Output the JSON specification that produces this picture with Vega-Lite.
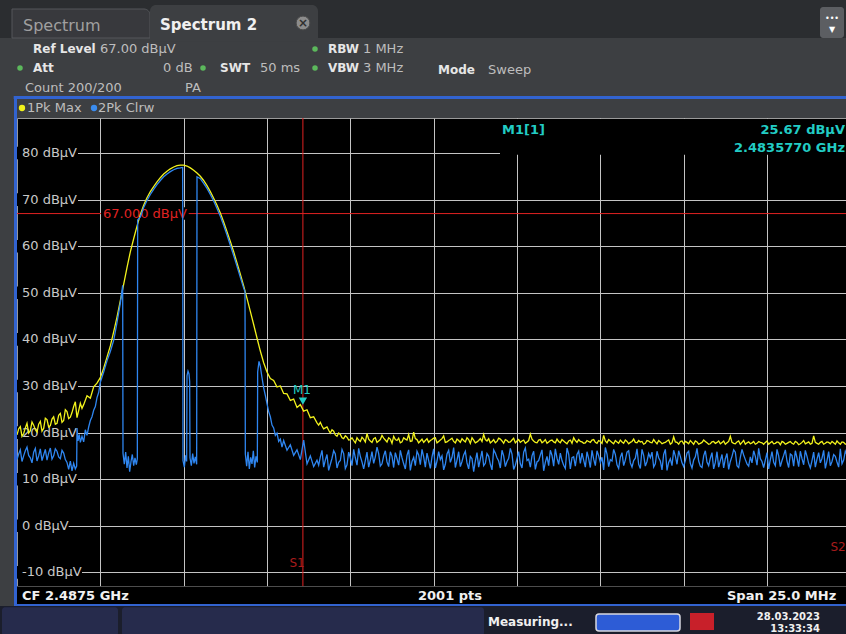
{
"$schema": "https://vega.github.io/schema/vega-lite/v6.json",
"width": 829, "height": 468,
"autosize": {"type": "none"},
"padding": {"left": 17, "top": 118, "right": 0, "bottom": 48},
"background": "#3d3f42",
"config": {
  "view": {"fill": "#000000", "stroke": "#9a9a9a", "strokeWidth": 1},
  "axis": {"title": null, "labels": false, "ticks": false, "domain": false, "grid": true, "gridColor": "#c4c4c4", "gridOpacity": 1, "gridWidth": 1},
  "text": {"font": "DejaVu Sans"}
},
"datasets": {
  "maxhold": [
    {"f":2475.0,"v":19.5},{"f":2475.1,"v":21.3},{"f":2475.2,"v":19.8},{"f":2475.3,"v":22.0},{"f":2475.4,"v":20.4},{"f":2475.5,"v":21.6},{"f":2475.6,"v":20.1},{"f":2475.7,"v":22.4},{"f":2475.8,"v":20.9},{"f":2475.9,"v":22.8},
    {"f":2476.0,"v":21.5},{"f":2476.1,"v":23.4},{"f":2476.2,"v":22.0},{"f":2476.3,"v":24.1},{"f":2476.4,"v":22.6},{"f":2476.5,"v":24.5},{"f":2476.6,"v":23.3},{"f":2476.7,"v":25.6},{"f":2476.8,"v":23.2},{"f":2476.9,"v":26.3},
    {"f":2475.05,"v":20.8},{"f":2475.15,"v":19.2},{"f":2475.25,"v":21.0},{"f":2475.35,"v":19.9},{"f":2475.45,"v":22.3},{"f":2475.55,"v":20.6},{"f":2475.65,"v":21.8},{"f":2475.75,"v":20.3},{"f":2475.85,"v":23.1},{"f":2475.95,"v":21.2},
    {"f":2476.05,"v":22.9},{"f":2476.15,"v":21.8},{"f":2476.25,"v":23.7},{"f":2476.35,"v":22.2},{"f":2476.45,"v":24.9},{"f":2476.55,"v":23.0},{"f":2476.65,"v":24.3},{"f":2476.75,"v":26.6},{"f":2476.85,"v":24.7},{"f":2476.95,"v":25.2},
    {"f":2477.0,"v":26.0},{"f":2477.1,"v":27.9},{"f":2477.2,"v":27.4},{"f":2477.3,"v":29.8},{"f":2477.4,"v":30.6},{"f":2477.5,"v":31.8},{"f":2477.6,"v":33.8},{"f":2477.7,"v":36.2},{"f":2477.8,"v":38.6},{"f":2477.9,"v":41.6},
    {"f":2478.0,"v":44.8},{"f":2478.1,"v":48.3},{"f":2478.2,"v":51.8},{"f":2478.3,"v":55.4},{"f":2478.4,"v":58.8},{"f":2478.5,"v":61.6},{"f":2478.6,"v":64.3},{"f":2478.7,"v":66.8},{"f":2478.8,"v":68.8},{"f":2478.9,"v":70.4},
    {"f":2479.0,"v":71.7},{"f":2479.1,"v":72.8},{"f":2479.2,"v":73.8},{"f":2479.3,"v":74.7},{"f":2479.4,"v":75.5},{"f":2479.5,"v":76.1},{"f":2479.6,"v":76.6},{"f":2479.7,"v":77.0},{"f":2479.8,"v":77.3},{"f":2479.9,"v":77.4},
    {"f":2480.0,"v":77.4},{"f":2480.1,"v":77.2},{"f":2480.2,"v":76.8},{"f":2480.3,"v":76.3},{"f":2480.4,"v":75.7},{"f":2480.5,"v":75.0},{"f":2480.6,"v":74.1},{"f":2480.7,"v":73.0},{"f":2480.8,"v":71.7},{"f":2480.9,"v":70.3},
    {"f":2481.0,"v":68.8},{"f":2481.1,"v":67.1},{"f":2481.2,"v":65.2},{"f":2481.3,"v":63.1},{"f":2481.4,"v":61.0},{"f":2481.5,"v":58.8},{"f":2481.6,"v":56.4},{"f":2481.7,"v":54.0},{"f":2481.8,"v":51.5},{"f":2481.9,"v":48.8},
    {"f":2482.0,"v":46.0},{"f":2482.1,"v":43.2},{"f":2482.2,"v":40.3},{"f":2482.3,"v":37.5},{"f":2482.4,"v":35.0},{"f":2482.5,"v":33.0},{"f":2482.6,"v":31.6},{"f":2482.7,"v":31.2},{"f":2482.8,"v":29.8},{"f":2482.9,"v":30.0},
    {"f":2483.0,"v":28.4},{"f":2483.1,"v":28.3},{"f":2483.2,"v":26.9},{"f":2483.3,"v":27.2},{"f":2483.4,"v":25.4},{"f":2483.5,"v":26.0},{"f":2483.6,"v":24.6},{"f":2483.7,"v":24.9},{"f":2483.8,"v":23.2},{"f":2483.9,"v":23.4},
    {"f":2484.0,"v":22.1},{"f":2484.1,"v":22.2},{"f":2484.2,"v":20.8},{"f":2484.3,"v":21.2},{"f":2484.4,"v":19.9},{"f":2484.5,"v":20.3},{"f":2484.6,"v":19.2},{"f":2484.7,"v":19.6},{"f":2484.8,"v":18.7},{"f":2484.9,"v":19.0},
    {"f":2485.0,"v":18.5},{"f":2485.1,"v":18.3},{"f":2485.2,"v":18.9},{"f":2485.3,"v":18.1},{"f":2485.4,"v":18.6},{"f":2485.5,"v":19.8},{"f":2485.6,"v":18.2},{"f":2485.7,"v":18.7},{"f":2485.8,"v":17.9},{"f":2485.9,"v":18.5},
    {"f":2486.0,"v":18.8},{"f":2486.1,"v":18.0},{"f":2486.2,"v":18.6},{"f":2486.3,"v":19.2},{"f":2486.4,"v":18.3},{"f":2486.5,"v":17.8},{"f":2486.6,"v":18.9},{"f":2486.7,"v":18.4},{"f":2486.8,"v":18.1},{"f":2486.9,"v":20.1},
    {"f":2487.0,"v":18.5},{"f":2487.1,"v":18.2},{"f":2487.2,"v":17.9},{"f":2487.3,"v":18.7},{"f":2487.4,"v":18.3},{"f":2487.5,"v":18.8},{"f":2487.6,"v":17.8},{"f":2487.7,"v":18.4},{"f":2487.8,"v":19.3},{"f":2487.9,"v":18.0},
    {"f":2488.0,"v":18.5},{"f":2488.1,"v":18.1},{"f":2488.2,"v":18.6},{"f":2488.3,"v":17.9},{"f":2488.4,"v":18.3},{"f":2488.5,"v":18.9},{"f":2488.6,"v":17.7},{"f":2488.7,"v":18.4},{"f":2488.8,"v":18.0},{"f":2488.9,"v":18.7},
    {"f":2489.0,"v":19.6},{"f":2489.1,"v":18.2},{"f":2489.2,"v":17.8},{"f":2489.3,"v":18.5},{"f":2489.4,"v":18.1},{"f":2489.5,"v":18.6},{"f":2489.6,"v":17.7},{"f":2489.7,"v":18.3},{"f":2489.8,"v":18.0},{"f":2489.9,"v":18.8},
    {"f":2490.0,"v":18.2},{"f":2490.1,"v":17.9},{"f":2490.2,"v":18.4},{"f":2490.3,"v":18.0},{"f":2490.4,"v":19.7},{"f":2490.5,"v":18.2},{"f":2490.6,"v":17.8},{"f":2490.7,"v":18.5},{"f":2490.8,"v":18.1},{"f":2490.9,"v":17.7},
    {"f":2491.0,"v":18.3},{"f":2491.1,"v":18.0},{"f":2491.2,"v":18.6},{"f":2491.3,"v":17.8},{"f":2491.4,"v":18.2},{"f":2491.5,"v":17.6},{"f":2491.6,"v":18.4},{"f":2491.7,"v":18.9},{"f":2491.8,"v":17.9},{"f":2491.9,"v":18.1},
    {"f":2492.0,"v":17.7},{"f":2492.1,"v":18.3},{"f":2492.2,"v":17.9},{"f":2492.3,"v":18.5},{"f":2492.4,"v":17.7},{"f":2492.5,"v":18.1},{"f":2492.6,"v":19.4},{"f":2492.7,"v":17.8},{"f":2492.8,"v":18.2},{"f":2492.9,"v":17.6},
    {"f":2493.0,"v":18.0},{"f":2493.1,"v":18.4},{"f":2493.2,"v":17.7},{"f":2493.3,"v":18.1},{"f":2493.4,"v":17.9},{"f":2493.5,"v":18.6},{"f":2493.6,"v":17.8},{"f":2493.7,"v":18.0},{"f":2493.8,"v":17.5},{"f":2493.9,"v":18.3},
    {"f":2494.0,"v":17.9},{"f":2494.1,"v":18.5},{"f":2494.2,"v":17.6},{"f":2494.3,"v":18.0},{"f":2494.4,"v":17.8},{"f":2494.5,"v":18.2},{"f":2494.6,"v":17.5},{"f":2494.7,"v":19.1},{"f":2494.8,"v":17.9},{"f":2494.9,"v":18.1},
    {"f":2495.0,"v":17.6},{"f":2495.1,"v":17.9},{"f":2495.2,"v":18.3},{"f":2495.3,"v":17.5},{"f":2495.4,"v":18.0},{"f":2495.5,"v":17.7},{"f":2495.6,"v":18.4},{"f":2495.7,"v":17.8},{"f":2495.8,"v":17.6},{"f":2495.9,"v":18.1},
    {"f":2496.0,"v":17.9},{"f":2496.1,"v":17.6},{"f":2496.2,"v":18.2},{"f":2496.3,"v":17.8},{"f":2496.4,"v":19.2},{"f":2496.5,"v":17.7},{"f":2496.6,"v":18.0},{"f":2496.7,"v":17.5},{"f":2496.8,"v":18.3},{"f":2496.9,"v":17.8},
    {"f":2497.0,"v":17.6},{"f":2497.1,"v":18.1},{"f":2497.2,"v":17.7},{"f":2497.3,"v":17.9},{"f":2497.4,"v":17.5},{"f":2497.5,"v":18.2},{"f":2497.6,"v":17.8},{"f":2497.7,"v":17.6},{"f":2497.8,"v":18.0},{"f":2497.9,"v":17.4},
    {"f":2498.0,"v":17.9},{"f":2498.1,"v":17.7},{"f":2498.2,"v":18.1},{"f":2498.3,"v":17.5},{"f":2498.4,"v":17.9},{"f":2498.5,"v":17.6},{"f":2498.6,"v":18.3},{"f":2498.7,"v":17.8},{"f":2498.8,"v":17.5},{"f":2498.9,"v":19.3},
    {"f":2499.0,"v":17.7},{"f":2499.1,"v":17.9},{"f":2499.2,"v":17.5},{"f":2499.3,"v":18.0},{"f":2499.4,"v":17.6},{"f":2499.5,"v":17.8},{"f":2499.6,"v":18.2},{"f":2499.7,"v":17.5},{"f":2499.8,"v":17.9},{"f":2499.9,"v":17.7},
    {"f":2484.05,"v":21.6},{"f":2484.15,"v":21.4},{"f":2484.25,"v":21.0},{"f":2484.35,"v":20.5},{"f":2484.45,"v":20.6},{"f":2484.55,"v":19.5},{"f":2484.65,"v":19.9},{"f":2484.75,"v":18.9},{"f":2484.85,"v":19.3},{"f":2484.95,"v":18.4},
    {"f":2485.05,"v":18.9},{"f":2485.15,"v":17.8},{"f":2485.25,"v":18.4},{"f":2485.35,"v":19.0},{"f":2485.45,"v":18.0},{"f":2485.55,"v":18.6},{"f":2485.65,"v":17.9},{"f":2485.75,"v":18.9},{"f":2485.85,"v":18.2},{"f":2485.95,"v":19.4},
    {"f":2486.05,"v":18.4},{"f":2486.15,"v":18.9},{"f":2486.25,"v":17.7},{"f":2486.35,"v":18.5},{"f":2486.45,"v":18.8},{"f":2486.55,"v":18.0},{"f":2486.65,"v":18.6},{"f":2486.75,"v":19.6},{"f":2486.85,"v":18.2},{"f":2486.95,"v":18.7},
    {"f":2487.05,"v":17.8},{"f":2487.15,"v":18.6},{"f":2487.25,"v":18.3},{"f":2487.35,"v":17.9},{"f":2487.45,"v":18.5},{"f":2487.55,"v":18.9},{"f":2487.65,"v":18.1},{"f":2487.75,"v":18.7},{"f":2487.85,"v":17.9},{"f":2487.95,"v":18.3},
    {"f":2488.05,"v":18.8},{"f":2488.15,"v":17.8},{"f":2488.25,"v":18.3},{"f":2488.35,"v":18.7},{"f":2488.45,"v":18.0},{"f":2488.55,"v":18.5},{"f":2488.65,"v":18.9},{"f":2488.75,"v":17.8},{"f":2488.85,"v":18.3},{"f":2488.95,"v":18.1},
    {"f":2489.05,"v":18.5},{"f":2489.15,"v":18.7},{"f":2489.25,"v":18.1},{"f":2489.35,"v":17.8},{"f":2489.45,"v":18.8},{"f":2489.55,"v":18.2},{"f":2489.65,"v":18.5},{"f":2489.75,"v":17.9},{"f":2489.85,"v":18.4},{"f":2489.95,"v":17.8},
    {"f":2490.05,"v":18.5},{"f":2490.15,"v":18.2},{"f":2490.25,"v":17.7},{"f":2490.35,"v":18.3},{"f":2490.45,"v":18.6},{"f":2490.55,"v":17.9},{"f":2490.65,"v":18.4},{"f":2490.75,"v":17.8},{"f":2490.85,"v":18.5},{"f":2490.95,"v":18.0},
    {"f":2491.05,"v":18.4},{"f":2491.15,"v":17.8},{"f":2491.25,"v":18.1},{"f":2491.35,"v":18.5},{"f":2491.45,"v":17.9},{"f":2491.55,"v":18.2},{"f":2491.65,"v":17.7},{"f":2491.75,"v":18.3},{"f":2491.85,"v":18.5},{"f":2491.95,"v":18.0},
    {"f":2492.05,"v":17.8},{"f":2492.15,"v":18.1},{"f":2492.25,"v":18.4},{"f":2492.35,"v":17.9},{"f":2492.45,"v":18.3},{"f":2492.55,"v":17.7},{"f":2492.65,"v":18.2},{"f":2492.75,"v":18.5},{"f":2492.85,"v":17.9},{"f":2492.95,"v":18.3},
    {"f":2493.05,"v":17.7},{"f":2493.15,"v":18.0},{"f":2493.25,"v":18.4},{"f":2493.35,"v":17.6},{"f":2493.45,"v":18.1},{"f":2493.55,"v":17.9},{"f":2493.65,"v":18.3},{"f":2493.75,"v":18.1},{"f":2493.85,"v":17.7},{"f":2493.95,"v":18.2},
    {"f":2494.05,"v":17.8},{"f":2494.15,"v":18.0},{"f":2494.25,"v":18.3},{"f":2494.35,"v":17.6},{"f":2494.45,"v":17.9},{"f":2494.55,"v":18.4},{"f":2494.65,"v":17.8},{"f":2494.75,"v":18.0},{"f":2494.85,"v":17.5},{"f":2494.95,"v":18.2},
    {"f":2495.05,"v":18.1},{"f":2495.15,"v":17.6},{"f":2495.25,"v":17.9},{"f":2495.35,"v":18.2},{"f":2495.45,"v":17.5},{"f":2495.55,"v":17.9},{"f":2495.65,"v":18.1},{"f":2495.75,"v":17.5},{"f":2495.85,"v":18.0},{"f":2495.95,"v":17.7},
    {"f":2496.05,"v":18.2},{"f":2496.15,"v":17.9},{"f":2496.25,"v":17.5},{"f":2496.35,"v":18.1},{"f":2496.45,"v":17.9},{"f":2496.55,"v":17.6},{"f":2496.65,"v":18.2},{"f":2496.75,"v":17.9},{"f":2496.85,"v":17.5},{"f":2496.95,"v":18.0},
    {"f":2497.05,"v":17.8},{"f":2497.15,"v":17.5},{"f":2497.25,"v":18.1},{"f":2497.35,"v":17.8},{"f":2497.45,"v":17.9},{"f":2497.55,"v":17.5},{"f":2497.65,"v":18.1},{"f":2497.75,"v":17.7},{"f":2497.85,"v":17.9},{"f":2497.95,"v":18.1},
    {"f":2498.05,"v":17.5},{"f":2498.15,"v":17.9},{"f":2498.25,"v":17.7},{"f":2498.35,"v":18.1},{"f":2498.45,"v":17.4},{"f":2498.55,"v":17.9},{"f":2498.65,"v":17.6},{"f":2498.75,"v":18.0},{"f":2498.85,"v":17.7},{"f":2498.95,"v":17.9},
    {"f":2499.05,"v":17.5},{"f":2499.15,"v":18.1},{"f":2499.25,"v":17.7},{"f":2499.35,"v":17.9},{"f":2499.45,"v":18.1},{"f":2499.55,"v":17.5},{"f":2499.65,"v":17.8},{"f":2499.75,"v":18.0},{"f":2499.85,"v":17.5}
  ],
  "clrw": [
    {"f":2475.0,"v":14.2},{"f":2475.1,"v":16.3},{"f":2475.2,"v":15.0},{"f":2475.3,"v":16.9},{"f":2475.4,"v":14.6},{"f":2475.5,"v":15.8},{"f":2475.6,"v":13.9},{"f":2475.7,"v":16.5},{"f":2475.8,"v":15.2},{"f":2475.9,"v":14.1},
    {"f":2476.0,"v":16.7},{"f":2476.1,"v":15.0},{"f":2476.2,"v":16.0},{"f":2476.3,"v":14.4},{"f":2476.4,"v":15.6},{"f":2476.5,"v":13.6},{"f":2476.55,"v":12.1},{"f":2476.6,"v":13.9},{"f":2476.65,"v":11.8},{"f":2476.7,"v":13.4},
    {"f":2475.05,"v":15.4},{"f":2475.15,"v":13.8},{"f":2475.25,"v":16.1},{"f":2475.35,"v":15.1},{"f":2475.45,"v":13.5},{"f":2475.55,"v":16.6},{"f":2475.65,"v":15.0},{"f":2475.75,"v":14.0},{"f":2475.85,"v":16.4},{"f":2475.95,"v":15.6},
    {"f":2476.05,"v":14.3},{"f":2476.15,"v":16.5},{"f":2476.25,"v":14.8},{"f":2476.35,"v":16.2},{"f":2476.45,"v":14.2},
    {"f":2476.75,"v":12.2},{"f":2476.79,"v":12.8},{"f":2476.8,"v":21.0},{"f":2476.83,"v":18.2},{"f":2476.87,"v":19.6},{"f":2476.9,"v":17.9},{"f":2476.95,"v":19.2},{"f":2477.0,"v":18.0},{"f":2477.05,"v":20.6},{"f":2477.1,"v":19.4},
    {"f":2477.15,"v":21.2},{"f":2477.2,"v":22.6},{"f":2477.25,"v":23.4},{"f":2477.3,"v":24.8},{"f":2477.35,"v":25.6},{"f":2477.4,"v":27.5},{"f":2477.45,"v":28.6},{"f":2477.5,"v":30.8},{"f":2477.6,"v":33.0},{"f":2477.7,"v":35.4},
    {"f":2477.8,"v":37.4},{"f":2477.9,"v":39.8},{"f":2478.0,"v":43.6},{"f":2478.1,"v":47.8},{"f":2478.17,"v":51.6},{"f":2478.18,"v":15.6},{"f":2478.22,"v":13.2},{"f":2478.26,"v":15.8},{"f":2478.3,"v":12.4},{"f":2478.34,"v":14.9},
    {"f":2478.38,"v":11.6},{"f":2478.42,"v":13.8},{"f":2478.46,"v":15.3},{"f":2478.5,"v":12.9},{"f":2478.54,"v":14.6},{"f":2478.58,"v":13.1},{"f":2478.61,"v":14.4},{"f":2478.62,"v":65.6},{"f":2478.7,"v":66.3},{"f":2478.8,"v":68.3},
    {"f":2478.9,"v":69.8},{"f":2479.0,"v":71.1},{"f":2479.1,"v":72.2},{"f":2479.2,"v":73.2},{"f":2479.3,"v":74.1},{"f":2479.4,"v":74.9},{"f":2479.5,"v":75.5},{"f":2479.6,"v":76.0},{"f":2479.7,"v":76.4},{"f":2479.8,"v":76.7},
    {"f":2479.9,"v":76.8},{"f":2479.97,"v":76.9},{"f":2479.98,"v":14.0},{"f":2480.02,"v":12.6},{"f":2480.06,"v":15.1},{"f":2480.09,"v":13.8},{"f":2480.1,"v":32.2},{"f":2480.13,"v":33.2},{"f":2480.16,"v":32.6},{"f":2480.18,"v":31.0},
    {"f":2480.19,"v":14.6},{"f":2480.23,"v":12.9},{"f":2480.27,"v":15.5},{"f":2480.31,"v":13.4},{"f":2480.35,"v":14.8},{"f":2480.39,"v":13.2},{"f":2480.4,"v":74.9},{"f":2480.5,"v":74.5},{"f":2480.6,"v":73.5},{"f":2480.7,"v":72.4},
    {"f":2480.8,"v":71.1},{"f":2480.9,"v":69.7},{"f":2481.0,"v":68.1},{"f":2481.1,"v":66.4},{"f":2481.2,"v":64.5},{"f":2481.3,"v":62.4},{"f":2481.4,"v":60.2},{"f":2481.5,"v":58.0},{"f":2481.6,"v":55.7},{"f":2481.7,"v":53.3},
    {"f":2481.8,"v":51.0},{"f":2481.84,"v":50.3},{"f":2481.85,"v":15.4},{"f":2481.89,"v":12.8},{"f":2481.93,"v":15.9},{"f":2481.97,"v":12.2},{"f":2482.01,"v":14.7},{"f":2482.05,"v":13.3},{"f":2482.09,"v":16.1},{"f":2482.13,"v":12.5},
    {"f":2482.17,"v":14.9},{"f":2482.21,"v":13.6},{"f":2482.22,"v":33.0},{"f":2482.26,"v":35.3},{"f":2482.3,"v":34.2},{"f":2482.35,"v":31.8},{"f":2482.4,"v":29.6},{"f":2482.45,"v":28.0},{"f":2482.5,"v":26.2},{"f":2482.55,"v":24.5},
    {"f":2482.6,"v":23.4},{"f":2482.65,"v":21.6},{"f":2482.7,"v":21.0},{"f":2482.75,"v":19.4},{"f":2482.8,"v":19.9},{"f":2482.85,"v":18.1},{"f":2482.9,"v":18.6},{"f":2482.95,"v":16.9},{"f":2483.0,"v":18.3},{"f":2483.1,"v":16.2},
    {"f":2483.2,"v":17.4},{"f":2483.3,"v":15.1},{"f":2483.4,"v":16.3},{"f":2483.5,"v":14.2},{"f":2483.6,"v":18.4},{"f":2483.7,"v":13.3},{"f":2483.8,"v":15.0},{"f":2483.9,"v":12.7},{"f":2484.0,"v":14.1},
    {"f":2484.1,"v":14.8},{"f":2484.2,"v":12.6},{"f":2484.3,"v":15.3},{"f":2484.4,"v":13.2},{"f":2484.5,"v":16.1},{"f":2484.6,"v":12.4},{"f":2484.7,"v":14.0},{"f":2484.8,"v":15.5},{"f":2484.9,"v":13.1},{"f":2485.0,"v":14.6},
    {"f":2485.1,"v":16.4},{"f":2485.2,"v":13.0},{"f":2485.3,"v":14.9},{"f":2485.4,"v":12.2},{"f":2485.5,"v":15.8},{"f":2485.6,"v":14.1},{"f":2485.7,"v":13.4},{"f":2485.8,"v":16.9},{"f":2485.9,"v":12.8},{"f":2486.0,"v":15.0},
    {"f":2486.1,"v":13.7},{"f":2486.2,"v":15.9},{"f":2486.3,"v":12.5},{"f":2486.4,"v":14.4},{"f":2486.5,"v":16.2},{"f":2486.6,"v":13.3},{"f":2486.7,"v":15.1},{"f":2486.8,"v":11.9},{"f":2486.9,"v":14.7},{"f":2487.0,"v":16.0},
    {"f":2487.1,"v":13.1},{"f":2487.2,"v":14.8},{"f":2487.3,"v":15.6},{"f":2487.4,"v":12.3},{"f":2487.5,"v":16.5},{"f":2487.6,"v":13.9},{"f":2487.7,"v":14.2},{"f":2487.8,"v":12.0},{"f":2487.9,"v":15.4},{"f":2488.0,"v":13.6},
    {"f":2488.1,"v":16.8},{"f":2488.2,"v":14.1},{"f":2488.3,"v":12.7},{"f":2488.4,"v":15.2},{"f":2488.5,"v":13.5},{"f":2488.6,"v":14.9},{"f":2488.7,"v":11.6},{"f":2488.8,"v":15.7},{"f":2488.9,"v":14.3},{"f":2489.0,"v":12.9},
    {"f":2489.1,"v":15.5},{"f":2489.2,"v":13.2},{"f":2489.3,"v":16.3},{"f":2489.4,"v":14.6},{"f":2489.5,"v":12.4},{"f":2489.6,"v":15.0},{"f":2489.7,"v":13.8},{"f":2489.8,"v":16.6},{"f":2489.9,"v":12.1},{"f":2490.0,"v":14.4},
    {"f":2490.1,"v":13.3},{"f":2490.2,"v":15.8},{"f":2490.3,"v":14.0},{"f":2490.4,"v":12.6},{"f":2490.5,"v":16.0},{"f":2490.6,"v":13.7},{"f":2490.7,"v":15.2},{"f":2490.8,"v":11.8},{"f":2490.9,"v":14.9},{"f":2491.0,"v":16.2},
    {"f":2491.1,"v":12.8},{"f":2491.2,"v":14.5},{"f":2491.3,"v":15.6},{"f":2491.4,"v":13.0},{"f":2491.5,"v":16.7},{"f":2491.6,"v":12.2},{"f":2491.7,"v":14.8},{"f":2491.8,"v":15.3},{"f":2491.9,"v":13.4},{"f":2492.0,"v":14.1},
    {"f":2492.1,"v":15.9},{"f":2492.2,"v":12.5},{"f":2492.3,"v":14.3},{"f":2492.4,"v":16.1},{"f":2492.5,"v":13.6},{"f":2492.6,"v":12.0},{"f":2492.7,"v":15.4},{"f":2492.8,"v":14.2},{"f":2492.9,"v":16.4},{"f":2493.0,"v":13.1},
    {"f":2493.1,"v":14.7},{"f":2493.2,"v":12.9},{"f":2493.3,"v":15.8},{"f":2493.4,"v":13.5},{"f":2493.5,"v":14.0},{"f":2493.6,"v":16.5},{"f":2493.7,"v":12.3},{"f":2493.8,"v":15.1},{"f":2493.9,"v":13.8},{"f":2494.0,"v":14.6},
    {"f":2494.1,"v":12.6},{"f":2494.2,"v":16.0},{"f":2494.3,"v":13.9},{"f":2494.4,"v":15.3},{"f":2494.5,"v":11.9},{"f":2494.6,"v":14.4},{"f":2494.7,"v":16.2},{"f":2494.8,"v":13.2},{"f":2494.9,"v":14.9},{"f":2495.0,"v":12.7},
    {"f":2495.1,"v":15.6},{"f":2495.2,"v":13.4},{"f":2495.3,"v":14.1},{"f":2495.4,"v":16.6},{"f":2495.5,"v":12.8},{"f":2495.6,"v":15.0},{"f":2495.7,"v":13.7},{"f":2495.8,"v":14.5},{"f":2495.9,"v":12.2},{"f":2496.0,"v":15.9},
    {"f":2496.1,"v":14.0},{"f":2496.2,"v":12.4},{"f":2496.3,"v":15.5},{"f":2496.4,"v":13.8},{"f":2496.5,"v":16.3},{"f":2496.6,"v":12.9},{"f":2496.7,"v":14.7},{"f":2496.8,"v":15.2},{"f":2496.9,"v":13.3},{"f":2497.0,"v":14.8},
    {"f":2497.1,"v":16.1},{"f":2497.2,"v":13.0},{"f":2497.3,"v":14.4},{"f":2497.4,"v":12.5},{"f":2497.5,"v":15.7},{"f":2497.6,"v":14.2},{"f":2497.7,"v":13.6},{"f":2497.8,"v":16.4},{"f":2497.9,"v":12.7},{"f":2498.0,"v":15.1},
    {"f":2498.1,"v":13.9},{"f":2498.2,"v":15.4},{"f":2498.3,"v":12.8},{"f":2498.4,"v":14.6},{"f":2498.5,"v":16.0},{"f":2498.6,"v":13.1},{"f":2498.7,"v":14.9},{"f":2498.8,"v":12.4},{"f":2498.9,"v":15.8},{"f":2499.0,"v":14.3},
    {"f":2499.1,"v":13.5},{"f":2499.2,"v":16.2},{"f":2499.3,"v":14.0},{"f":2499.4,"v":12.9},{"f":2499.5,"v":15.3},{"f":2499.6,"v":13.7},{"f":2499.7,"v":16.5},{"f":2499.8,"v":14.1},{"f":2499.9,"v":15.2},
    {"f":2484.05,"v":13.0},{"f":2484.15,"v":16.2},{"f":2484.25,"v":14.1},{"f":2484.35,"v":11.9},{"f":2484.45,"v":14.5},{"f":2484.55,"v":15.4},{"f":2484.65,"v":13.6},{"f":2484.75,"v":16.4},{"f":2484.85,"v":12.3},{"f":2484.95,"v":15.8},
    {"f":2485.05,"v":12.9},{"f":2485.15,"v":14.6},{"f":2485.25,"v":16.6},{"f":2485.35,"v":13.7},{"f":2485.45,"v":14.0},{"f":2485.55,"v":12.6},{"f":2485.65,"v":15.9},{"f":2485.75,"v":14.8},{"f":2485.85,"v":15.5},{"f":2485.95,"v":13.3},
    {"f":2486.05,"v":16.1},{"f":2486.15,"v":12.7},{"f":2486.25,"v":14.9},{"f":2486.35,"v":15.7},{"f":2486.45,"v":13.0},{"f":2486.55,"v":14.6},{"f":2486.65,"v":12.2},{"f":2486.75,"v":16.3},{"f":2486.85,"v":13.8},{"f":2486.95,"v":12.9},
    {"f":2487.05,"v":15.2},{"f":2487.15,"v":16.4},{"f":2487.25,"v":12.6},{"f":2487.35,"v":14.0},{"f":2487.45,"v":14.8},{"f":2487.55,"v":12.4},{"f":2487.65,"v":15.9},{"f":2487.75,"v":15.0},{"f":2487.85,"v":13.2},{"f":2487.95,"v":16.2},
    {"f":2488.05,"v":14.7},{"f":2488.15,"v":12.5},{"f":2488.25,"v":15.9},{"f":2488.35,"v":13.8},{"f":2488.45,"v":16.0},{"f":2488.55,"v":12.2},{"f":2488.65,"v":14.4},{"f":2488.75,"v":13.9},{"f":2488.85,"v":12.6},{"f":2488.95,"v":16.1},
    {"f":2489.05,"v":13.4},{"f":2489.15,"v":14.9},{"f":2489.25,"v":12.0},{"f":2489.35,"v":15.6},{"f":2489.45,"v":13.9},{"f":2489.55,"v":16.2},{"f":2489.65,"v":12.7},{"f":2489.75,"v":14.5},{"f":2489.85,"v":15.4},{"f":2489.95,"v":13.0},
    {"f":2490.05,"v":15.9},{"f":2490.15,"v":12.4},{"f":2490.25,"v":16.7},{"f":2490.35,"v":14.3},{"f":2490.45,"v":15.0},{"f":2490.55,"v":12.1},{"f":2490.65,"v":14.0},{"f":2490.75,"v":16.3},{"f":2490.85,"v":13.6},{"f":2490.95,"v":12.9},
    {"f":2491.05,"v":15.1},{"f":2491.15,"v":16.5},{"f":2491.25,"v":13.2},{"f":2491.35,"v":14.0},{"f":2491.45,"v":12.3},{"f":2491.55,"v":15.4},{"f":2491.65,"v":14.6},{"f":2491.75,"v":12.8},{"f":2491.85,"v":16.0},{"f":2491.95,"v":15.6},
    {"f":2492.05,"v":12.6},{"f":2492.15,"v":14.4},{"f":2492.25,"v":16.2},{"f":2492.35,"v":12.9},{"f":2492.45,"v":15.0},{"f":2492.55,"v":14.7},{"f":2492.65,"v":16.8},{"f":2492.75,"v":12.7},{"f":2492.85,"v":13.9},{"f":2492.95,"v":15.3},
    {"f":2493.05,"v":12.3},{"f":2493.15,"v":15.7},{"f":2493.25,"v":14.1},{"f":2493.35,"v":16.1},{"f":2493.45,"v":12.6},{"f":2493.55,"v":14.5},{"f":2493.65,"v":13.2},{"f":2493.75,"v":16.4},{"f":2493.85,"v":12.8},{"f":2493.95,"v":15.5},
    {"f":2494.05,"v":15.8},{"f":2494.15,"v":13.3},{"f":2494.25,"v":14.6},{"f":2494.35,"v":12.0},{"f":2494.45,"v":16.4},{"f":2494.55,"v":13.6},{"f":2494.65,"v":12.9},{"f":2494.75,"v":15.0},{"f":2494.85,"v":16.1},{"f":2494.95,"v":13.5},
    {"f":2495.05,"v":14.0},{"f":2495.15,"v":16.0},{"f":2495.25,"v":12.4},{"f":2495.35,"v":14.8},{"f":2495.45,"v":13.9},{"f":2495.55,"v":12.5},{"f":2495.65,"v":16.1},{"f":2495.75,"v":12.9},{"f":2495.85,"v":15.7},{"f":2495.95,"v":13.6},
    {"f":2496.05,"v":12.6},{"f":2496.15,"v":15.3},{"f":2496.25,"v":14.4},{"f":2496.35,"v":12.1},{"f":2496.45,"v":14.9},{"f":2496.55,"v":15.8},{"f":2496.65,"v":12.5},{"f":2496.75,"v":16.4},{"f":2496.85,"v":14.2},{"f":2496.95,"v":12.8},
    {"f":2497.05,"v":13.5},{"f":2497.15,"v":14.9},{"f":2497.25,"v":16.6},{"f":2497.35,"v":13.8},{"f":2497.45,"v":14.1},{"f":2497.55,"v":12.2},{"f":2497.65,"v":15.9},{"f":2497.75,"v":12.9},{"f":2497.85,"v":15.0},{"f":2497.95,"v":14.0},
    {"f":2498.05,"v":16.3},{"f":2498.15,"v":12.5},{"f":2498.25,"v":15.1},{"f":2498.35,"v":16.1},{"f":2498.45,"v":12.7},{"f":2498.55,"v":14.4},{"f":2498.65,"v":16.2},{"f":2498.75,"v":13.4},{"f":2498.85,"v":14.0},{"f":2498.95,"v":12.6},
    {"f":2499.05,"v":15.7},{"f":2499.15,"v":14.5},{"f":2499.25,"v":12.3},{"f":2499.35,"v":15.9},{"f":2499.45,"v":13.8},{"f":2499.55,"v":14.9},{"f":2499.65,"v":12.6},{"f":2499.75,"v":13.3},{"f":2499.85,"v":16.0}
  ],
  "ylabels": [
    {"f":2475.15,"v":80,"t":"80 dBµV"},{"f":2475.15,"v":70,"t":"70 dBµV"},{"f":2475.15,"v":60,"t":"60 dBµV"},{"f":2475.15,"v":50,"t":"50 dBµV"},{"f":2475.15,"v":40,"t":"40 dBµV"},
    {"f":2475.15,"v":30,"t":"30 dBµV"},{"f":2475.15,"v":20,"t":"20 dBµV"},{"f":2475.15,"v":10,"t":"10 dBµV"},{"f":2475.15,"v":0,"t":"0 dBµV"},{"f":2475.15,"v":-10,"t":"-10 dBµV"}
  ]
},
"encoding": {
  "x": {"field": "f", "type": "quantitative", "scale": {"domain": [2475, 2499.87], "nice": false, "zero": false},
        "axis": {"values": [2477.5, 2480, 2482.5, 2485, 2487.5, 2490, 2492.5, 2495, 2497.5]}},
  "y": {"field": "v", "type": "quantitative", "scale": {"domain": [-12.92, 87.51], "nice": false, "zero": false},
        "axis": {"values": [-10, 0, 10, 20, 30, 40, 50, 60, 70, 80]}}
},
"layer": [
  {"data": {"values": [{"f":2474.4,"f2":2500.0,"v":113.5,"v2":104.68}]},
   "mark": {"type": "rect", "color": "#2b2d30"}, "encoding": {"x2": {"field": "f2"}, "y2": {"field": "v2"}}},
  {"data": {"values": [{"f":2474.85,"f2":2478.99,"v":110.9,"v2":104.68}]},
   "mark": {"type": "rect", "color": "#38393d", "stroke": "#55575b", "strokeWidth": 1, "cornerRadiusTopRight": 6}, "encoding": {"x2": {"field": "f2"}, "y2": {"field": "v2"}}},
  {"data": {"values": [{"f":2478.99,"f2":2484.03,"v":111.76,"v2":104.0}]},
   "mark": {"type": "rect", "color": "#3d3f42", "cornerRadiusTopLeft": 6, "cornerRadiusTopRight": 6}, "encoding": {"x2": {"field": "f2"}, "y2": {"field": "v2"}}},
  {"data": {"values": [{"f":2499.09,"f2":2499.81,"v":111.33,"v2":104.68}]},
   "mark": {"type": "rect", "color": "#5c5e62", "cornerRadius": 3}, "encoding": {"x2": {"field": "f2"}, "y2": {"field": "v2"}}},
  {"data": {"values": [{"f":2474.4,"f2":2500.0,"v":-17.21,"v2":-23.6}]},
   "mark": {"type": "rect", "color": "#1b1e2c"}, "encoding": {"x2": {"field": "f2"}, "y2": {"field": "v2"}}},
  {"data": {"values": [{"f":2474.55,"f2":2478.03,"v":-17.5,"v2":-23.6},{"f":2478.15,"f2":2489.01,"v":-17.5,"v2":-23.6}]},
   "mark": {"type": "rect", "color": "#262b4c", "cornerRadius": 3}, "encoding": {"x2": {"field": "f2"}, "y2": {"field": "v2"}}},
  {"data": {"values": [{"f":2492.37,"f2":2494.89,"v":-18.93,"v2":-22.58}]},
   "mark": {"type": "rect", "color": "#2d5cd6", "stroke": "#d8d8e0", "strokeWidth": 1.5, "cornerRadius": 3}, "encoding": {"x2": {"field": "f2"}, "y2": {"field": "v2"}}},
  {"data": {"values": [{"f":2495.19,"f2":2495.91,"v":-18.71,"v2":-22.37}]},
   "mark": {"type": "rect", "color": "#c8202a"}, "encoding": {"x2": {"field": "f2"}, "y2": {"field": "v2"}}},
  {"data": {"values": [{"f":2474.9,"f2":2500.0,"v":92.23,"v2":91.59},{"f":2474.91,"f2":2475.0,"v":92.23,"v2":-17.21},{"f":2474.91,"f2":2500.0,"v":-16.78,"v2":-17.21}]},
   "mark": {"type": "rect", "color": "#3263d0"}, "encoding": {"x2": {"field": "f2"}, "y2": {"field": "v2"}}},
  {"data": {"values": [{"f":2475.0,"f2":2499.87,"v":67}]},
   "mark": {"type": "rule", "color": "#e02222", "strokeWidth": 1}, "encoding": {"x2": {"field": "f2"}}},
  {"data": {"values": [{"f":2483.577,"v":87.51,"v2":-12.92}]},
   "mark": {"type": "rule", "color": "#e02222", "strokeWidth": 1}, "encoding": {"y2": {"field": "v2"}}},
  {"data": {"values": [
     {"f":2489.49,"f2":2499.95,"v":87.3,"v2":79.6},{"f":2477.52,"f2":2480.15,"v":68.35,"v2":65.65},{"f":2475.0,"f2":2500.0,"v":-13.05,"v2":-16.78},
     {"f":2475.0,"f2":2476.83,"v":81.35,"v2":78.65},{"f":2475.0,"f2":2476.83,"v":71.35,"v2":68.65},{"f":2475.0,"f2":2476.83,"v":61.35,"v2":58.65},{"f":2475.0,"f2":2476.83,"v":51.35,"v2":48.65},{"f":2475.0,"f2":2476.83,"v":41.35,"v2":38.65},
     {"f":2475.0,"f2":2476.83,"v":31.35,"v2":28.65},{"f":2475.0,"f2":2476.83,"v":21.35,"v2":18.65},{"f":2475.0,"f2":2476.83,"v":11.35,"v2":8.65},{"f":2475.0,"f2":2476.55,"v":1.35,"v2":-1.35},{"f":2475.0,"f2":2476.95,"v":-8.65,"v2":-11.35}]},
   "mark": {"type": "rect", "color": "#000000"}, "encoding": {"x2": {"field": "f2"}, "y2": {"field": "v2"}}},
  {"data": {"name": "ylabels"},
   "mark": {"type": "text", "align": "left", "baseline": "middle", "fontSize": 13, "color": "#c8c8c8"},
   "encoding": {"text": {"field": "t"}}},
  {"data": {"values": [{"f":2477.58,"v":67,"t":"67.000 dBµV"}]},
   "mark": {"type": "text", "align": "left", "baseline": "middle", "fontSize": 13, "color": "#e02222"},
   "encoding": {"text": {"field": "t"}}},
  {"data": {"name": "maxhold"},
   "mark": {"type": "line", "color": "#f2f21c", "strokeWidth": 1.3, "clip": true, "interpolate": "linear"}, "encoding": {}},
  {"data": {"name": "clrw"},
   "mark": {"type": "line", "color": "#2f86f0", "strokeWidth": 1.3, "clip": true, "interpolate": "linear"}, "encoding": {}},
  {"data": {"values": [{"f":2483.577,"v":25.67}]},
   "mark": {"type": "point", "shape": "triangle-down", "filled": true, "color": "#22ccc4", "opacity": 1, "size": 70, "yOffset": -5}, "encoding": {}},
  {"data": {"values": [{"f":2483.55,"v":29.1,"t":"M1"}]},
   "mark": {"type": "text", "align": "center", "baseline": "middle", "fontSize": 12, "color": "#22ccc4"},
   "encoding": {"text": {"field": "t"}}},
  {"data": {"values": [{"f":2489.55,"v":84.94,"t":"M1[1]"}]},
   "mark": {"type": "text", "align": "left", "baseline": "middle", "fontSize": 13, "fontWeight": "bold", "color": "#22ccc4"},
   "encoding": {"text": {"field": "t"}}},
  {"data": {"values": [{"f":2499.84,"v":84.94,"t":"25.67 dBµV"},{"f":2499.84,"v":81.07,"t":"2.4835770 GHz"}]},
   "mark": {"type": "text", "align": "right", "baseline": "middle", "fontSize": 13, "fontWeight": "bold", "color": "#22ccc4"},
   "encoding": {"text": {"field": "t"}}},
  {"data": {"values": [{"f":2483.4,"v":-8.0,"t":"S1"},{"f":2499.63,"v":-4.55,"t":"S2"}]},
   "mark": {"type": "text", "align": "center", "baseline": "middle", "fontSize": 12, "color": "#a81c1c"},
   "encoding": {"text": {"field": "t"}}},
  {"data": {"values": [{"f":2475.18,"v":107.25,"t":"Spectrum"}]},
   "mark": {"type": "text", "align": "left", "baseline": "middle", "fontSize": 16, "color": "#a0a0a0"},
   "encoding": {"text": {"field": "t"}}},
  {"data": {"values": [{"f":2479.29,"v":107.4,"t":"Spectrum 2"}]},
   "mark": {"type": "text", "align": "left", "baseline": "middle", "fontSize": 15, "fontWeight": "bold", "color": "#f0f0f0"},
   "encoding": {"text": {"field": "t"}}},
  {"data": {"values": [{"f":2483.58,"v":107.9}]},
   "mark": {"type": "point", "shape": "circle", "filled": true, "color": "#8c8c8c", "stroke": "#4a4a4a", "strokeWidth": 1, "opacity": 1, "size": 190}, "encoding": {}},
  {"data": {"values": [{"f":2483.58,"v":107.9,"t":"×"}]},
   "mark": {"type": "text", "align": "center", "baseline": "middle", "fontSize": 12, "fontWeight": "bold", "color": "#303030"},
   "encoding": {"text": {"field": "t"}}},
  {"data": {"values": [{"f":2499.45,"v":108.8,"t":"•••"},{"f":2499.45,"v":106.4,"t":"▼"}]},
   "mark": {"type": "text", "align": "center", "baseline": "middle", "fontSize": 8, "color": "#ffffff"},
   "encoding": {"text": {"field": "t"}}},
  {"data": {"values": [{"f":2475.48,"v":102.32,"t":"Ref Level"},{"f":2475.48,"v":98.24,"t":"Att"},{"f":2481.09,"v":98.24,"t":"SWT"},{"f":2484.33,"v":102.32,"t":"RBW"},{"f":2484.33,"v":98.24,"t":"VBW"},{"f":2487.63,"v":97.9,"t":"Mode"}]},
   "mark": {"type": "text", "align": "left", "baseline": "middle", "fontSize": 12, "fontWeight": "bold", "color": "#e6e6e6"},
   "encoding": {"text": {"field": "t"}}},
  {"data": {"values": [{"f":2477.49,"v":102.32,"t":"67.00 dBµV"},{"f":2479.38,"v":98.24,"t":"0 dB"},{"f":2482.29,"v":98.24,"t":"50 ms"},{"f":2485.38,"v":102.32,"t":"1 MHz"},{"f":2485.38,"v":98.24,"t":"3 MHz"},{"f":2489.13,"v":97.9,"t":"Sweep"},{"f":2475.24,"v":93.95,"t":"Count 200/200"},{"f":2480.04,"v":93.95,"t":"PA"},{"f":2475.3,"v":89.66,"t":"1Pk Max"},{"f":2477.43,"v":89.66,"t":"2Pk Clrw"}]},
   "mark": {"type": "text", "align": "left", "baseline": "middle", "fontSize": 13, "color": "#bdbdbd"},
   "encoding": {"text": {"field": "t"}}},
  {"data": {"values": [{"f":2475.09,"v":98.24},{"f":2480.58,"v":98.24},{"f":2483.94,"v":102.32},{"f":2483.94,"v":98.24}]},
   "mark": {"type": "point", "shape": "circle", "filled": true, "color": "#5cb85c", "opacity": 1, "size": 30}, "encoding": {}},
  {"data": {"values": [{"f":2475.15,"v":89.66}]},
   "mark": {"type": "point", "shape": "circle", "filled": true, "color": "#f2f21c", "opacity": 1, "size": 40}, "encoding": {}},
  {"data": {"values": [{"f":2477.31,"v":89.66}]},
   "mark": {"type": "point", "shape": "circle", "filled": true, "color": "#3a8cf0", "opacity": 1, "size": 40}, "encoding": {}},
  {"data": {"values": [{"f":2475.15,"v":-15.0,"t":"CF 2.4875 GHz"},{"f":2487.03,"v":-15.0,"t":"2001 pts"},{"f":2496.3,"v":-15.0,"t":"Span 25.0 MHz"}]},
   "mark": {"type": "text", "align": "left", "baseline": "middle", "fontSize": 13, "fontWeight": "bold", "color": "#f0f0f0"},
   "encoding": {"text": {"field": "t"}}},
  {"data": {"values": [{"f":2489.13,"v":-20.64,"t":"Measuring..."}]},
   "mark": {"type": "text", "align": "left", "baseline": "middle", "fontSize": 12, "fontWeight": "bold", "color": "#f0f0f0"},
   "encoding": {"text": {"field": "t"}}},
  {"data": {"values": [{"f":2499.09,"v":-19.57,"t":"28.03.2023"},{"f":2499.09,"v":-22.15,"t":"13:33:34"}]},
   "mark": {"type": "text", "align": "right", "baseline": "middle", "fontSize": 10, "fontWeight": "bold", "color": "#f0f0f0"},
   "encoding": {"text": {"field": "t"}}}
]
}
